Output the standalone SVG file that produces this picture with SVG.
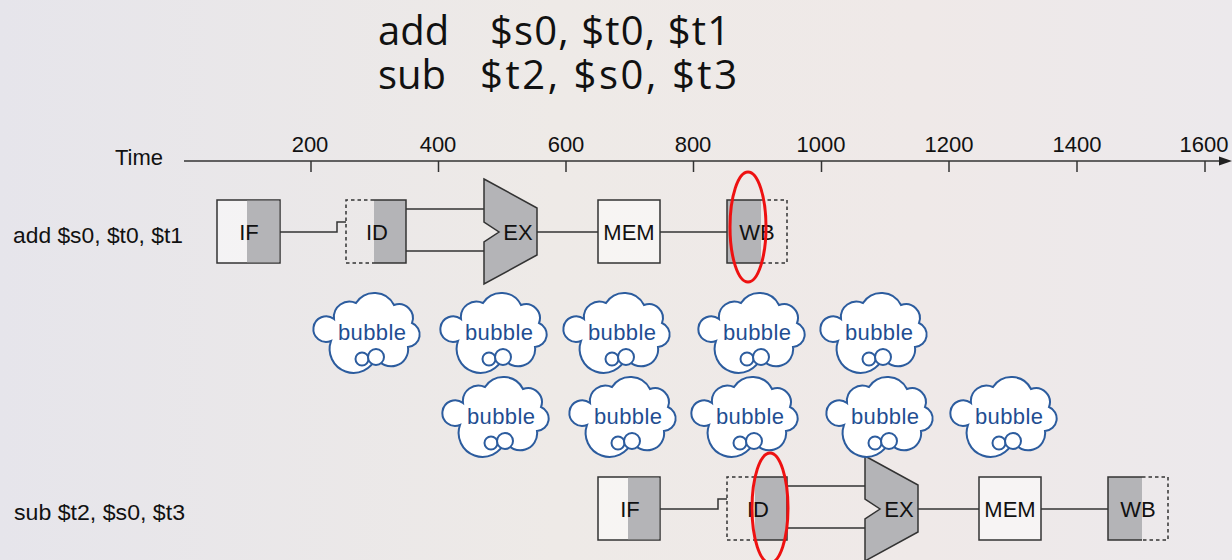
<svg xmlns="http://www.w3.org/2000/svg" xmlns:xlink="http://www.w3.org/1999/xlink" width="1232" height="560" viewBox="0 0 1232 560">
<defs>
<linearGradient id="bg" x1="0" y1="0" x2="1" y2="0">
<stop offset="0" stop-color="#e6e5eb"/>
<stop offset="0.45" stop-color="#eeeae7"/>
<stop offset="0.75" stop-color="#efe9e8"/>
<stop offset="1" stop-color="#ece9ec"/>
</linearGradient>
<g id="cloud">
<path d="M -37,12 A 12.8 12.8 0 1 1 -34,-10 A 15.6 15.6 0 0 1 -12,-26 A 21.9 21.9 0 0 1 26,-24 A 14 14 0 0 1 44,-6 A 12.5 12.5 0 0 1 40,18 A 17 17 0 0 1 8,28 A 22 22 0 0 1 -37,12 Z"/>
<circle cx="-6" cy="30" r="6.5"/>
<circle cx="8" cy="28" r="8"/>
</g>
<style>
.lbl{font-family:"Liberation Sans",Arial,sans-serif;font-size:22px;fill:#111}
.stg{font-family:"Liberation Sans",Arial,sans-serif;font-size:22px;fill:#111;text-anchor:middle}
.title{font-family:"Open Sans","Noto Sans",sans-serif;font-size:40px;fill:#111}
.ln{fill:none;stroke:#333;stroke-width:1.5}
.box{fill:#ffffff;fill-opacity:0.5;stroke:#333;stroke-width:1.5}
.gray{fill:#b4b4b7;stroke:none}
.dash{fill:none;stroke:#333;stroke-width:1.5;stroke-dasharray:3.5 3}
.ex{fill:#b4b4b7;stroke:#333;stroke-width:1.5;stroke-linejoin:miter}
.red{fill:none;stroke:#ee1111;stroke-width:3}
.cl{fill:#ffffff;stroke:#2c5c9e;stroke-width:2}
.bt{font-family:"Liberation Sans",Arial,sans-serif;font-size:22px;fill:#1f4e92;text-anchor:middle}
</style>
</defs>
<rect width="1232" height="560" fill="url(#bg)"/>

<g id="title">
<text class="title" x="378" y="45">add</text>
<text class="title" x="490" y="45" textLength="240" lengthAdjust="spacing">$s0, $t0, $t1</text>
<text class="title" x="378" y="89">sub</text>
<text class="title" x="480" y="89" textLength="257" lengthAdjust="spacing">$t2, $s0, $t3</text>
</g>

<g id="axis">
<text class="lbl" x="115" y="165">Time</text>
<line class="ln" x1="184" y1="161" x2="1222" y2="161"/>
<polygon points="1219,156.5 1232,161 1219,165.5" fill="#222"/>
<g class="ln">
<line x1="311" y1="161" x2="311" y2="172"/>
<line x1="438.5" y1="161" x2="438.5" y2="172"/>
<line x1="566" y1="161" x2="566" y2="172"/>
<line x1="693.5" y1="161" x2="693.5" y2="172"/>
<line x1="821.5" y1="161" x2="821.5" y2="172"/>
<line x1="949" y1="161" x2="949" y2="172"/>
<line x1="1077" y1="161" x2="1077" y2="172"/>
<line x1="1205" y1="161" x2="1205" y2="172"/>
</g>
<g class="stg">
<text x="310" y="152">200</text>
<text x="438" y="152">400</text>
<text x="566" y="152">600</text>
<text x="693" y="152">800</text>
<text x="821" y="152">1000</text>
<text x="949" y="152">1200</text>
<text x="1077" y="152">1400</text>
<text x="1204" y="152">1600</text>
</g>
</g>

<g id="row1-label"><text class="lbl" x="13" y="243" textLength="170" lengthAdjust="spacingAndGlyphs">add $s0, $t0, $t1</text></g>
<g id="row2-label"><text class="lbl" x="14" y="520" textLength="171" lengthAdjust="spacingAndGlyphs">sub $t2, $s0, $t3</text></g>

<g id="connectors">
<path class="ln" d="M280,232 H337 V222 H346"/>
<path class="ln" d="M406,209 H484 M406,251 H484"/>
<path class="ln" d="M537,232 H598"/>
<path class="ln" d="M660,232 H727"/>
<path class="ln" d="M660,509 H718 V499 H727"/>
<path class="ln" d="M787,486 H865 M787,528 H865"/>
<path class="ln" d="M918,509 H979"/>
<path class="ln" d="M1041,509 H1108"/>
</g>

<g id="add-IF">
<rect class="box" x="217" y="200" width="63" height="63"/>
<rect class="gray" x="247" y="200.75" width="32.25" height="61.5"/>
<text class="stg" x="249" y="240">IF</text>
</g>
<g id="add-ID">
<rect class="gray" x="374" y="200" width="32" height="63"/>
<path class="dash" d="M374,200 H346 V263 H374"/>
<path class="ln" d="M374,200 H406 V263 H374"/>
<text class="stg" x="377" y="240">ID</text>
</g>
<g id="add-EX">
<polygon class="ex" points="484,179 537,208 537,255 484,284 484,242 499,232 484,222"/>
<text class="stg" x="518" y="240">EX</text>
</g>
<g id="add-MEM">
<rect class="box" x="598" y="200" width="62" height="63"/>
<text class="stg" x="629" y="240">MEM</text>
</g>
<g id="add-WB">
<rect class="gray" x="727" y="200" width="34" height="63"/>
<path class="ln" d="M761,200 H727 V263 H761"/>
<path class="dash" d="M761,200 H787 V263 H761"/>
<text class="stg" x="757" y="240">WB</text>
</g>

<g id="sub-IF">
<rect class="box" x="598" y="477" width="62" height="63"/>
<rect class="gray" x="628" y="477.75" width="31.25" height="61.5"/>
<text class="stg" x="630" y="517">IF</text>
</g>
<g id="sub-ID">
<rect class="gray" x="755" y="477" width="32" height="63"/>
<path class="dash" d="M755,477 H727 V540 H755"/>
<path class="ln" d="M755,477 H787 V540 H755"/>
<text class="stg" x="758" y="517">ID</text>
</g>
<g id="sub-EX">
<polygon class="ex" points="865,456 918,485 918,532 865,561 865,519 880,509 865,499"/>
<text class="stg" x="899" y="517">EX</text>
</g>
<g id="sub-MEM">
<rect class="box" x="979" y="477" width="62" height="63"/>
<text class="stg" x="1010" y="517">MEM</text>
</g>
<g id="sub-WB">
<rect class="gray" x="1108" y="477" width="34" height="63"/>
<path class="ln" d="M1142,477 H1108 V540 H1142"/>
<path class="dash" d="M1142,477 H1168 V540 H1142"/>
<text class="stg" x="1138" y="517">WB</text>
</g>

<g id="bubble-a1"><use xlink:href="#cloud" href="#cloud" class="cl" x="368" y="329"/><text class="bt" x="372" y="340" textLength="68">bubble</text></g>
<g id="bubble-a2"><use xlink:href="#cloud" href="#cloud" class="cl" x="495" y="329"/><text class="bt" x="499" y="340" textLength="68">bubble</text></g>
<g id="bubble-a3"><use xlink:href="#cloud" href="#cloud" class="cl" x="618" y="329"/><text class="bt" x="622" y="340" textLength="68">bubble</text></g>
<g id="bubble-a4"><use xlink:href="#cloud" href="#cloud" class="cl" x="753" y="329"/><text class="bt" x="757" y="340" textLength="68">bubble</text></g>
<g id="bubble-a5"><use xlink:href="#cloud" href="#cloud" class="cl" x="875" y="329"/><text class="bt" x="879" y="340" textLength="68">bubble</text></g>
<g id="bubble-b1"><use xlink:href="#cloud" href="#cloud" class="cl" x="497" y="413"/><text class="bt" x="501" y="424" textLength="68">bubble</text></g>
<g id="bubble-b2"><use xlink:href="#cloud" href="#cloud" class="cl" x="624" y="413"/><text class="bt" x="628" y="424" textLength="68">bubble</text></g>
<g id="bubble-b3"><use xlink:href="#cloud" href="#cloud" class="cl" x="746" y="413"/><text class="bt" x="750" y="424" textLength="68">bubble</text></g>
<g id="bubble-b4"><use xlink:href="#cloud" href="#cloud" class="cl" x="881" y="413"/><text class="bt" x="885" y="424" textLength="68">bubble</text></g>
<g id="bubble-b5"><use xlink:href="#cloud" href="#cloud" class="cl" x="1005" y="413"/><text class="bt" x="1009" y="424" textLength="68">bubble</text></g>

<g id="highlights">
<ellipse class="red" cx="748" cy="227" rx="18" ry="55"/>
<ellipse class="red" cx="770" cy="508" rx="18" ry="55"/>
</g>
</svg>
